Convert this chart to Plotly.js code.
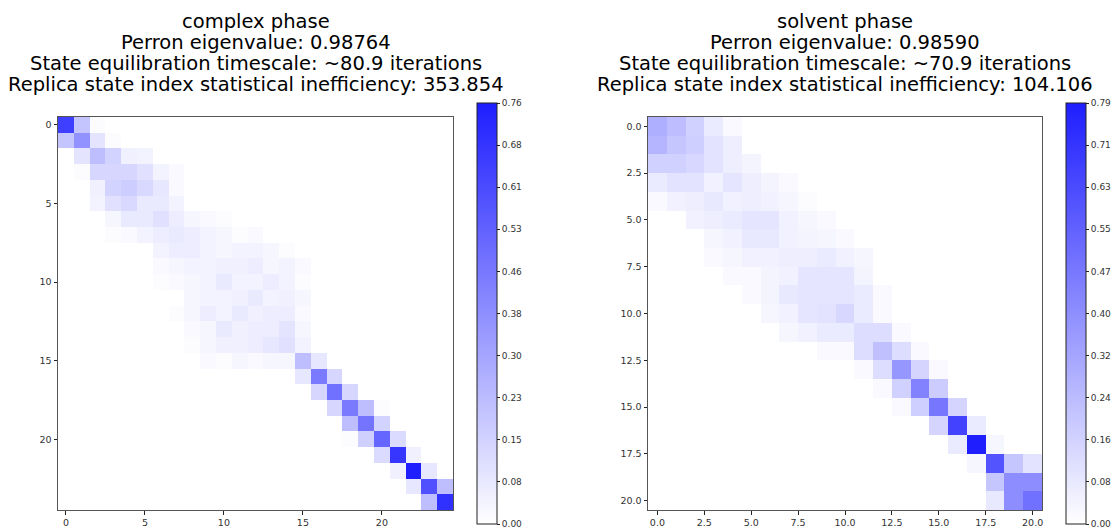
<!DOCTYPE html>
<html>
<head>
<meta charset="utf-8">
<script src="https://cdn.plot.ly/plotly-3.0.1.min.js"></script>
<style>html,body{margin:0;padding:0;background:#fff;}#chart{width:1117px;height:529px;}</style>
</head>
<body>
<div id="chart"></div>
<script>
// ---- data ----
const complexTitleLines = ["complex phase", "Perron eigenvalue: 0.98764", "State equilibration timescale: ~80.9 iterations", "Replica state index statistical inefficiency: 353.854"];
const solventTitleLines = ["solvent phase", "Perron eigenvalue: 0.98590", "State equilibration timescale: ~70.9 iterations", "Replica state index statistical inefficiency: 104.106"];

const complexStates = [0,1,2,3,4,5,6,7,8,9,10,11,12,13,14,15,16,17,18,19,20,21,22,23,24];
const solventStates = [0,1,2,3,4,5,6,7,8,9,10,11,12,13,14,15,16,17,18,19,20];

const complexMatrix = [
 [0.65,0.20,0.01,0,0, 0,0,0,0,0, 0,0,0,0,0, 0,0,0,0,0, 0,0,0,0,0],
 [0.20,0.37,0.09,0.01,0, 0,0,0,0,0, 0,0,0,0,0, 0,0,0,0,0, 0,0,0,0,0],
 [0,0.09,0.22,0.15,0.05, 0.04,0,0,0,0, 0,0,0,0,0, 0,0,0,0,0, 0,0,0,0,0],
 [0,0.01,0.14,0.14,0.14, 0.10,0.04,0.02,0,0, 0,0,0,0,0, 0,0,0,0,0, 0,0,0,0,0],
 [0,0,0.05,0.15,0.17, 0.13,0.08,0.02,0,0, 0,0,0,0,0, 0,0,0,0,0, 0,0,0,0,0],
 [0,0,0.04,0.10,0.13, 0.07,0.07,0.04,0,0, 0,0,0,0,0, 0,0,0,0,0, 0,0,0,0,0],
 [0,0,0,0.03,0.07, 0.07,0.10,0.06,0.03,0.02, 0.01,0,0,0,0, 0,0,0,0,0, 0,0,0,0,0],
 [0,0,0,0.01,0.02, 0.04,0.06,0.07,0.06,0.04, 0.03,0.01,0.02,0,0, 0,0,0,0,0, 0,0,0,0,0],
 [0,0,0,0,0, 0,0.04,0.06,0.06,0.04, 0.03,0.04,0.04,0.03,0.01, 0,0,0,0,0, 0,0,0,0,0],
 [0,0,0,0,0, 0,0.02,0.03,0.04,0.04, 0.05,0.05,0.06,0.03,0.04, 0.02,0,0,0,0, 0,0,0,0,0],
 [0,0,0,0,0, 0,0.01,0.02,0.03,0.04, 0.07,0.04,0.04,0.06,0.04, 0.01,0,0,0,0, 0,0,0,0,0],
 [0,0,0,0,0, 0,0,0,0.03,0.04, 0.04,0.05,0.07,0.04,0.05, 0.03,0,0,0,0, 0,0,0,0,0],
 [0,0,0,0,0, 0,0,0.01,0.03,0.06, 0.04,0.07,0.05,0.06,0.06, 0.02,0,0,0,0, 0,0,0,0,0],
 [0,0,0,0,0, 0,0,0,0.02,0.03, 0.07,0.05,0.06,0.06,0.09, 0.03,0,0,0,0, 0,0,0,0,0],
 [0,0,0,0,0, 0,0,0,0.01,0.03, 0.05,0.05,0.06,0.08,0.10, 0.04,0,0,0,0, 0,0,0,0,0],
 [0,0,0,0,0, 0,0,0,0,0.02, 0.01,0.03,0.02,0.03,0.03, 0.22,0.08,0,0,0, 0,0,0,0,0],
 [0,0,0,0,0, 0,0,0,0,0, 0,0,0,0,0, 0.08,0.45,0.14,0,0, 0,0,0,0,0],
 [0,0,0,0,0, 0,0,0,0,0, 0,0,0,0,0, 0,0.14,0.48,0.14,0, 0,0,0,0,0],
 [0,0,0,0,0, 0,0,0,0,0, 0,0,0,0,0, 0,0,0.14,0.45,0.22, 0.01,0,0,0,0],
 [0,0,0,0,0, 0,0,0,0,0, 0,0,0,0,0, 0,0,0,0.22,0.47, 0.15,0,0,0,0],
 [0,0,0,0,0, 0,0,0,0,0, 0,0,0,0,0, 0,0,0,0.01,0.16, 0.52,0.12,0,0,0],
 [0,0,0,0,0, 0,0,0,0,0, 0,0,0,0,0, 0,0,0,0,0, 0.12,0.68,0.05,0,0],
 [0,0,0,0,0, 0,0,0,0,0, 0,0,0,0,0, 0,0,0,0,0, 0,0.05,0.76,0.08,0],
 [0,0,0,0,0, 0,0,0,0,0, 0,0,0,0,0, 0,0,0,0,0, 0,0,0.08,0.59,0.22],
 [0,0,0,0,0, 0,0,0,0,0, 0,0,0,0,0, 0,0,0,0,0, 0,0,0,0.22,0.70]
];

const solventMatrix = [
 [0.28,0.23,0.16,0.07,0.02, 0,0,0,0,0, 0,0,0,0,0, 0,0,0,0,0, 0],
 [0.26,0.20,0.17,0.10,0.06, 0,0,0,0,0, 0,0,0,0,0, 0,0,0,0,0, 0],
 [0.16,0.16,0.14,0.10,0.06, 0.04,0,0,0,0, 0,0,0,0,0, 0,0,0,0,0, 0],
 [0.07,0.10,0.10,0.05,0.09, 0.06,0.04,0.02,0,0, 0,0,0,0,0, 0,0,0,0,0, 0],
 [0.02,0.05,0.06,0.08,0.05, 0.06,0.05,0.03,0.01,0, 0,0,0,0,0, 0,0,0,0,0, 0],
 [0,0,0.05,0.06,0.07, 0.09,0.09,0.05,0.03,0.02, 0,0,0,0,0, 0,0,0,0,0, 0],
 [0,0,0,0.03,0.05, 0.08,0.08,0.05,0.04,0.03, 0.02,0,0,0,0, 0,0,0,0,0, 0],
 [0,0,0,0.02,0.03, 0.05,0.05,0.06,0.06,0.07, 0.05,0.03,0,0,0, 0,0,0,0,0, 0],
 [0,0,0,0,0.02, 0.02,0.04,0.05,0.09,0.09, 0.09,0.04,0,0,0, 0,0,0,0,0, 0],
 [0,0,0,0,0, 0.02,0.04,0.08,0.09,0.09, 0.09,0.07,0.02,0,0, 0,0,0,0,0, 0],
 [0,0,0,0,0, 0,0.03,0.05,0.09,0.10, 0.14,0.07,0.02,0,0, 0,0,0,0,0, 0],
 [0,0,0,0,0, 0,0,0.03,0.05,0.07, 0.07,0.12,0.12,0.02,0, 0,0,0,0,0, 0],
 [0,0,0,0,0, 0,0,0,0,0.02, 0.02,0.12,0.22,0.12,0.02, 0,0,0,0,0, 0],
 [0,0,0,0,0, 0,0,0,0,0, 0,0.02,0.12,0.37,0.15, 0.02,0,0,0,0, 0],
 [0,0,0,0,0, 0,0,0,0,0, 0,0,0.02,0.16,0.44, 0.18,0,0,0,0, 0],
 [0,0,0,0,0, 0,0,0,0,0, 0,0,0,0.02,0.17, 0.48,0.15,0,0,0, 0],
 [0,0,0,0,0, 0,0,0,0,0, 0,0,0,0,0, 0.15,0.66,0.07,0,0, 0],
 [0,0,0,0,0, 0,0,0,0,0, 0,0,0,0,0, 0,0.07,0.79,0.03,0, 0],
 [0,0,0,0,0, 0,0,0,0,0, 0,0,0,0,0, 0,0,0.03,0.60,0.20, 0.10],
 [0,0,0,0,0, 0,0,0,0,0, 0,0,0,0,0, 0,0,0,0.20,0.40, 0.40],
 [0,0,0,0,0, 0,0,0,0,0, 0,0,0,0,0, 0,0,0,0.08,0.40, 0.50]
];

const complexZmax = 0.76;
const solventZmax = 0.79;
const complexCbarLabels = ["0.00","0.08","0.15","0.23","0.30","0.38","0.46","0.53","0.61","0.68","0.76"];
const solventCbarLabels = ["0.00","0.08","0.16","0.24","0.32","0.40","0.47","0.55","0.63","0.71","0.79"];
const complexAxisTicks = [0,5,10,15,20];
const complexAxisLabels = ["0","5","10","15","20"];
const solventAxisTicks = [0,2.5,5,7.5,10,12.5,15,17.5,20];
const solventAxisLabels = ["0.0","2.5","5.0","7.5","10.0","12.5","15.0","17.5","20.0"];

// ---- chart ----
const W = 1117, H = 529;
const px = v => v / W;
const py = v => 1 - v / H;
const cscale = [[0, 'rgb(255,255,255)'], [1, 'rgb(30,30,255)']];
const FONT = 'DejaVu Sans, sans-serif';

function cbarVals(labels, zmax) {
  return labels.map((_, i) => zmax * i / (labels.length - 1));
}
function cbar(xPix, labels, zmax) {
  return {
    x: px(xPix), xanchor: 'left', xref: 'paper',
    y: py(313.5), yanchor: 'middle', yref: 'paper',
    len: 421, lenmode: 'pixels', thickness: 20, thicknessmode: 'pixels',
    xpad: 0, ypad: 0, outlinewidth: 1, outlinecolor: '#222',
    ticks: 'outside', ticklen: 3, tickwidth: 1, tickcolor: '#222',
    ticklabeloverflow: 'allow',
    tickvals: cbarVals(labels, zmax), ticktext: labels,
    tickfont: {family: FONT, size: 9, color: '#333'}
  };
}

const traces = [
  {
    type: 'heatmap', z: complexMatrix, x: complexStates, y: complexStates,
    xaxis: 'x', yaxis: 'y', zmin: 0, zmax: complexZmax, colorscale: cscale,
    colorbar: cbar(477, complexCbarLabels, complexZmax)
  },
  {
    type: 'heatmap', z: solventMatrix, x: solventStates, y: solventStates,
    xaxis: 'x2', yaxis: 'y2', zmin: 0, zmax: solventZmax, colorscale: cscale,
    colorbar: cbar(1066, solventCbarLabels, solventZmax)
  }
];

function ax(domain, range, tickvals, ticktext, anchor) {
  return {
    domain: domain, range: range, anchor: anchor,
    tickmode: 'array', tickvals: tickvals, ticktext: ticktext,
    ticks: 'outside', ticklen: 3.5, tickwidth: 1, tickcolor: '#222',
    showline: true, linecolor: '#555', linewidth: 1, mirror: true,
    showgrid: false, zeroline: false, ticklabeloverflow: 'allow',
    tickfont: {family: FONT, size: 9.5, color: '#333'}
  };
}

const lineCentersY = [21, 42.5, 63.7, 85];
function titleAnnots(lines, cx) {
  return lines.map((t, i) => ({
    text: t, xref: 'paper', yref: 'paper', x: px(cx), y: py(lineCentersY[i]),
    xanchor: 'center', yanchor: 'middle', showarrow: false,
    font: {family: FONT, size: 19.5, color: '#000'}
  }));
}

const nC = complexStates.length, nS = solventStates.length;
const layout = {
  width: W, height: H,
  margin: {l: 0, r: 0, t: 0, b: 0},
  paper_bgcolor: '#fff', plot_bgcolor: '#fff',
  showlegend: false,
  xaxis: ax([px(58), px(453)], [-0.5, nC - 0.5], complexAxisTicks, complexAxisLabels, 'y'),
  yaxis: ax([py(510), py(117)], [nC - 0.5, -0.5], complexAxisTicks, complexAxisLabels, 'x'),
  xaxis2: ax([px(648), px(1042)], [-0.5, nS - 0.5], solventAxisTicks, solventAxisLabels, 'y2'),
  yaxis2: ax([py(510), py(117)], [nS - 0.5, -0.5], solventAxisTicks, solventAxisLabels, 'x2'),
  annotations: titleAnnots(complexTitleLines, 255.5).concat(titleAnnots(solventTitleLines, 845))
};

Plotly.newPlot('chart', traces, layout, {displayModeBar: false, staticPlot: true});
</script>
</body>
</html>
